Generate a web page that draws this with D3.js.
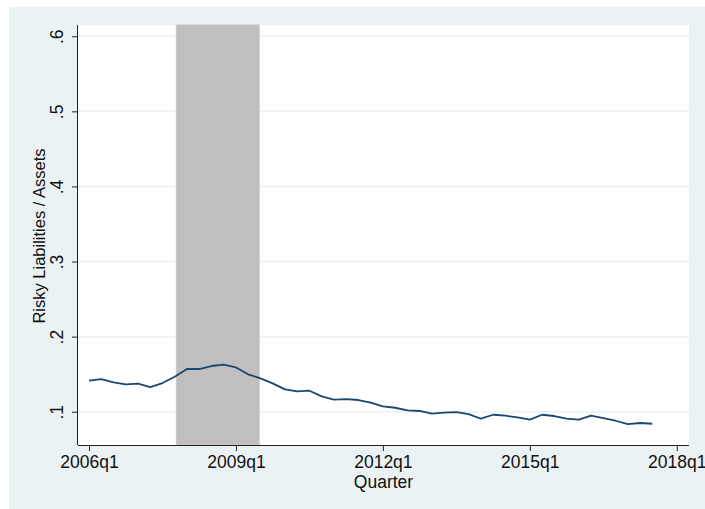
<!DOCTYPE html>
<html>
<head>
<meta charset="utf-8">
<script src="https://cdn.jsdelivr.net/npm/d3@7"></script>
<style>
  html, body { margin: 0; padding: 0; background: #ffffff; }
  svg { display: block; font-family: "Liberation Sans", Arial, sans-serif; }
</style>
</head>
<body>
<svg id="chart" width="705" height="509"></svg>
<script>
// ---- data ----
const startYear = 2006;
const values = [
  0.1413, 0.1435, 0.1390, 0.1365, 0.1373, 0.1329, 0.1382, 0.1466,
  0.1569, 0.1569, 0.1609, 0.1626, 0.1590, 0.1498, 0.1445, 0.1378,
  0.1298, 0.1272, 0.1280, 0.1205, 0.1160, 0.1169, 0.1156, 0.1120,
  0.1072, 0.1053, 0.1019, 0.1010, 0.0974, 0.0987, 0.0996, 0.0969,
  0.0907, 0.0960, 0.0947, 0.0925, 0.0894, 0.0960, 0.0943, 0.0907,
  0.0894, 0.0947, 0.0916, 0.0880, 0.0836, 0.0850, 0.0840
];
const quarterIndex = values.map((v, i) => i); // 0 = 2006q1
const xTickValues = [0, 12, 24, 36, 48];
const xTickLabels = ["2006q1", "2009q1", "2012q1", "2015q1", "2018q1"];
const yTickValues = [0.1, 0.2, 0.3, 0.4, 0.5, 0.6];
const recession = [7.13, 13.9]; // quarter index span (2007q4 - 2009q2)
const xDomain = [-0.9, 49];
const yDomain = [0.0557, 0.615];

// ---- layout ----
const FS = 17.5;
const svg = d3.select("#chart");
const plot = { left: 78, right: 689, top: 25, bottom: 445 };

svg.append("rect").attr("x", 9).attr("y", 7).attr("width", 696).attr("height", 502)
  .attr("fill", "#EAF2F3");
svg.append("rect").attr("x", plot.left).attr("y", plot.top)
  .attr("width", plot.right - plot.left).attr("height", plot.bottom - plot.top)
  .attr("fill", "#ffffff");

const x = d3.scaleLinear().domain(xDomain).range([plot.left, plot.right]);
const y = d3.scaleLinear().domain(yDomain).range([plot.bottom, plot.top]);

// grid
svg.append("g").selectAll("line").data(yTickValues).join("line")
  .attr("x1", plot.left).attr("x2", plot.right)
  .attr("y1", d => y(d)).attr("y2", d => y(d))
  .attr("stroke", "#EAF2F3").attr("stroke-width", 1.6);

// recession shading
svg.append("rect")
  .attr("x", x(recession[0])).attr("y", plot.top)
  .attr("width", x(recession[1]) - x(recession[0]))
  .attr("height", plot.bottom - plot.top)
  .attr("fill", "#BFBFBF").attr("stroke", "#C8C8C8").attr("stroke-width", 1);

// line
const line = d3.line().x((d, i) => x(quarterIndex[i])).y(d => y(d));
svg.append("path").datum(values).attr("d", line)
  .attr("fill", "none").attr("stroke", "#1A476F").attr("stroke-width", 1.8)
  .attr("stroke-linejoin", "round");

// x axis
const xAxis = d3.axisBottom(x).tickValues(xTickValues)
  .tickFormat((d, i) => xTickLabels[i]).tickSize(6).tickSizeOuter(0).tickPadding(4.5);
const gx = svg.append("g").attr("transform", `translate(0,${plot.bottom})`).call(xAxis);
gx.select(".domain").attr("d", `M${plot.left},0.5H${plot.right}`).attr("stroke", "#222");
gx.selectAll(".tick line").attr("stroke", "#222");
gx.selectAll(".tick text").attr("font-size", FS).attr("fill", "#111")
  .attr("font-family", "'Liberation Sans', Arial, sans-serif");

// y axis
const yAxis = d3.axisLeft(y).tickValues(yTickValues)
  .tickFormat(d => d3.format(".1f")(d).replace(/^0/, "")).tickSize(6).tickSizeOuter(0);
const gy = svg.append("g").attr("transform", `translate(${plot.left},0)`).call(yAxis);
gy.select(".domain").attr("d", `M-0.5,${plot.top}V${plot.bottom}`).attr("stroke", "#222");
gy.selectAll(".tick line").attr("stroke", "#222");
gy.selectAll(".tick text")
  .attr("font-size", FS).attr("fill", "#111")
  .attr("font-family", "'Liberation Sans', Arial, sans-serif")
  .attr("x", null).attr("dy", null)
  .attr("transform", "translate(-15,0) rotate(-90)")
  .attr("text-anchor", "middle").attr("y", 0);

// axis titles
svg.append("text")
  .attr("x", (plot.left + plot.right) / 2).attr("y", 488)
  .attr("text-anchor", "middle").attr("font-size", FS).attr("fill", "#111")
  .text("Quarter");
svg.append("text")
  .attr("transform", `translate(45,${(plot.top + plot.bottom) / 2 + 1}) rotate(-90)`)
  .attr("text-anchor", "middle").attr("font-size", 16.5).attr("fill", "#111")
  .text("Risky Liabilities / Assets");
</script>
</body>
</html>
